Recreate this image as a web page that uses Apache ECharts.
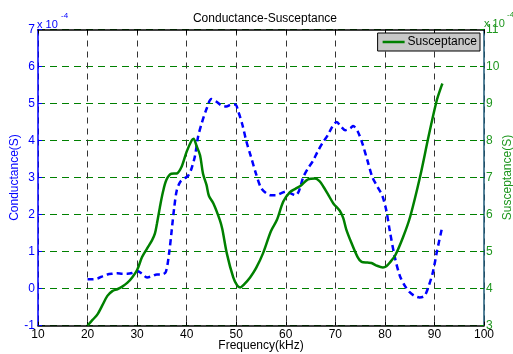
<!DOCTYPE html>
<html>
<head>
<meta charset="utf-8">
<script src="https://cdn.jsdelivr.net/npm/echarts@6/dist/echarts.min.js"></script>
<style>
  html, body { margin: 0; padding: 0; background: #fff; }
  #chart { width: 513px; height: 354px; }
</style>
</head>
<body>
<div id="chart"></div>
<script>
// Frequency sweep (kHz) and conductance in units of 1e-4 S
const condFreq = [20, 21, 22, 23, 24, 25, 26, 27, 28, 29, 30, 31, 32, 33, 34, 35, 35.8, 36.5, 37, 37.5, 38, 38.7, 39.5, 40.3, 41, 41.7, 42.3, 43, 44, 45, 46, 47, 48, 49, 49.8, 50.5, 51.3, 52, 53, 54, 55, 56, 57, 58, 59, 60, 61, 62, 62.7, 63.5, 64.5, 65.5, 66.5, 67.5, 68.5, 69.5, 70.3, 71, 72, 73, 73.6, 74.5, 75.5, 76.5, 77.5, 78.5, 79.5, 80.3, 81, 82, 83, 84, 85, 86, 87, 88, 88.8, 89.7, 90.5, 91.5];
const conductance = [0.25, 0.25, 0.27, 0.33, 0.38, 0.40, 0.41, 0.40, 0.40, 0.42, 0.47, 0.40, 0.30, 0.33, 0.38, 0.38, 0.45, 1.0, 1.6, 2.2, 2.65, 2.88, 2.97, 3.05, 3.25, 3.6, 4.1, 4.45, 4.85, 5.12, 5.05, 4.95, 4.92, 4.97, 4.97, 4.75, 4.4, 4.0, 3.55, 3.1, 2.72, 2.58, 2.52, 2.52, 2.57, 2.62, 2.57, 2.52, 2.65, 3.0, 3.25, 3.45, 3.72, 3.95, 4.15, 4.4, 4.5, 4.4, 4.28, 4.33, 4.39, 4.25, 3.9, 3.45, 3.0, 2.75, 2.5, 2.1, 1.55, 0.85, 0.35, 0.08, -0.1, -0.2, -0.24, -0.2, 0.05, 0.45, 1.0, 1.62];

// Susceptance in units of 1e-4 S
const suscFreq = [20, 21, 22, 23, 24, 25, 26, 27, 28, 29, 30, 31, 32, 33, 33.6, 34, 34.6, 35.2, 35.9, 36.9, 38, 39, 40, 41, 41.4, 42, 42.7, 43.3, 44, 44.5, 45.4, 46.7, 47.2, 48.1, 49.4, 50.2, 50.8, 51.5, 52.8, 54, 55.4, 57, 58.2, 59.5, 60.8, 62, 63, 64.5, 65.9, 66.8, 67.6, 68.5, 69.6, 70.9, 71.6, 72.2, 73.2, 74.5, 75.3, 76.5, 77.3, 78.3, 79.6, 80.3, 81, 82.1, 83.7, 85.1, 87.1, 88.8, 90.5, 91.6];
const susceptance = [3.0, 3.15, 3.3, 3.55, 3.8, 3.93, 3.98, 4.05, 4.15, 4.3, 4.5, 4.85, 5.08, 5.3, 5.49, 5.75, 6.2, 6.6, 6.93, 7.1, 7.11, 7.3, 7.7, 8.0, 8.05, 7.85, 7.6, 7.1, 6.8, 6.5, 6.3, 5.85, 5.6, 4.95, 4.3, 4.08, 4.03, 4.1, 4.3, 4.55, 4.95, 5.55, 5.85, 6.35, 6.6, 6.7, 6.78, 6.95, 6.97, 6.9, 6.75, 6.55, 6.3, 6.1, 5.9, 5.6, 5.25, 4.85, 4.72, 4.70, 4.69, 4.62, 4.57, 4.6, 4.7, 4.9, 5.4, 5.94, 7.02, 8.1, 9.1, 9.54];

const pair = (xs, ys) => xs.map((x, i) => [x, ys[i]]);

const FONT = 'Liberation Sans, Arial, sans-serif';
const BLUE = '#0000ff';
const GREEN = '#008000';
const GREEN_TXT = '#1e961e';

const chart = echarts.init(document.getElementById('chart'), null, { renderer: 'canvas' });
chart.setOption({
  animation: false,
  backgroundColor: '#ffffff',
  textStyle: { fontFamily: FONT },
  title: {
    text: 'Conductance-Susceptance',
    left: 260, top: 8, textAlign: 'center',
    textStyle: { fontFamily: FONT, fontSize: 12, fontWeight: 'normal', color: '#000' }
  },
  legend: {
    data: [{ name: 'Susceptance', icon: 'rect' }],
    right: 33, top: 33,
    backgroundColor: '#c8c8c8', borderColor: '#000', borderWidth: 1,
    padding: [3, 3, 3, 5], itemWidth: 22, itemHeight: 2.5, itemGap: 4,
    textStyle: { fontFamily: FONT, fontSize: 12, color: '#000', padding: [0, 0, 0, -2] }
  },
  grid: { left: 38, right: 29, top: 29.5, bottom: 28.5, containLabel: false, outerBoundsMode: 'none' },
  xAxis: [
    {
      type: 'value', position: 'bottom', min: 10, max: 100, interval: 10,
      name: 'Frequency(kHz)', nameLocation: 'middle', nameGap: 14, nameMoveOverlap: false,
      nameTextStyle: { fontFamily: FONT, fontSize: 12, color: '#000' },
      axisLine: { onZero: false, lineStyle: { color: '#000', width: 1.5 } },
      axisTick: { inside: true, length: 4, lineStyle: { color: '#000' } },
      axisLabel: { margin: 3, fontFamily: FONT, fontSize: 12, color: '#000' },
      splitLine: { show: true, lineStyle: { color: '#333', width: 1, type: [6, 5] } }
    },
    {
      type: 'value', position: 'top', min: 10, max: 100, interval: 10,
      axisLine: { onZero: false, lineStyle: { color: '#000', width: 1.5 } },
      axisTick: { inside: true, length: 4, lineStyle: { color: '#000' } },
      axisLabel: { show: false },
      splitLine: { show: false }
    }
  ],
  yAxis: [
    {
      type: 'value', position: 'left', min: -1, max: 7, interval: 1,
      name: 'Conductance(S)', nameLocation: 'middle', nameGap: 17, nameRotate: 90, nameMoveOverlap: false,
      nameTextStyle: { fontFamily: FONT, fontSize: 12, color: BLUE },
      axisLine: { show: true, onZero: false, lineStyle: { color: BLUE, width: 1.5 } },
      axisTick: { show: true, inside: true, length: 4, lineStyle: { color: BLUE } },
      axisLabel: { margin: 3, fontFamily: FONT, fontSize: 12, color: BLUE },
      splitLine: { show: false }
    },
    {
      type: 'value', position: 'right', min: 3, max: 11, interval: 1,
      name: 'Susceptance(S)', nameLocation: 'middle', nameGap: 18, nameRotate: 90, nameMoveOverlap: false,
      nameTextStyle: { fontFamily: FONT, fontSize: 12, color: GREEN_TXT },
      axisLine: { show: true, onZero: false, lineStyle: { color: '#1e5a78', width: 1.5 } },
      axisTick: { show: true, inside: true, length: 4, lineStyle: { color: GREEN } },
      axisLabel: { margin: 2, fontFamily: FONT, fontSize: 12, color: GREEN_TXT },
      splitLine: { show: true, lineStyle: { color: GREEN, width: 1, type: [7, 5] } }
    }
  ],
  graphic: [
    { type: 'text', left: 37, top: 19, style: { text: 'x 10', fill: BLUE, font: '11px ' + FONT } },
    { type: 'text', left: 61, top: 12, style: { text: '-4', fill: BLUE, font: '8px ' + FONT } },
    { type: 'text', left: 484, top: 18, style: { text: 'x 10', fill: GREEN_TXT, font: '11px ' + FONT } },
    { type: 'text', left: 507, top: 11, style: { text: '-4', fill: GREEN_TXT, font: '8px ' + FONT } }
  ],
  series: [
    {
      name: 'Conductance', type: 'line', xAxisIndex: 0, yAxisIndex: 0,
      data: pair(condFreq, conductance), smooth: 0.3, showSymbol: false,
      lineStyle: { color: BLUE, width: 2.5, type: [6, 4] }, itemStyle: { color: BLUE }, z: 3
    },
    {
      name: 'Susceptance', type: 'line', xAxisIndex: 0, yAxisIndex: 1,
      data: pair(suscFreq, susceptance), smooth: 0.3, showSymbol: false,
      lineStyle: { color: GREEN, width: 2.5 }, itemStyle: { color: GREEN }, z: 4
    }
  ]
});
</script>
</body>
</html>
